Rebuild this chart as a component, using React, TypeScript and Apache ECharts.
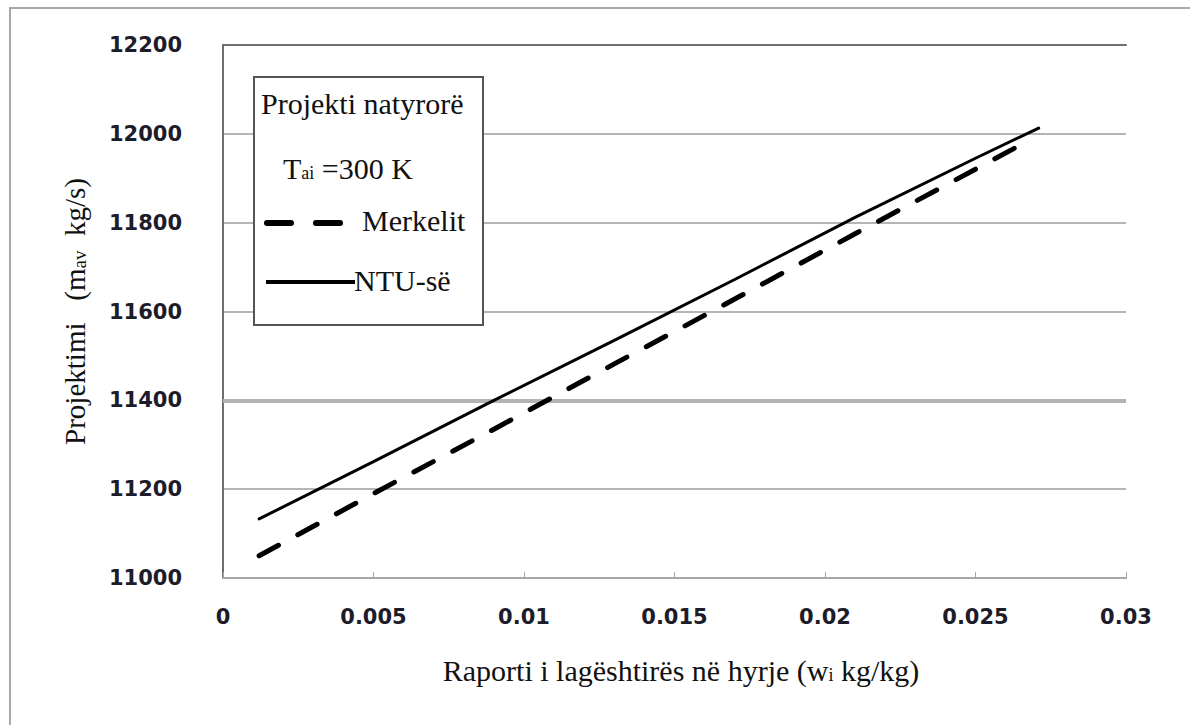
import React, { useEffect, useRef } from "react";
import * as echarts from "echarts";

// Inlet humidity ratio (kg/kg) and design flow results
const ntuX = [0.0012, 0.005, 0.009, 0.013, 0.017, 0.021, 0.025, 0.0271];
const ntuY = [11133, 11262, 11400, 11535, 11672, 11812, 11945, 12013];
const merkelX = [0.0012, 0.005, 0.009, 0.013, 0.017, 0.021, 0.0265];
const merkelY = [11050, 11190, 11335, 11482, 11628, 11775, 11975];

const xTicks = [0, 0.005, 0.01, 0.015, 0.02, 0.025, 0.03];
const yMin = 11000;
const yMax = 12200;
const yStep = 200;
const highlightLevel = 11400;

const serif = "'Liberation Serif', 'Times New Roman', serif";
const tickFont = "'DejaVu Sans', Verdana, sans-serif";

export default function App() {
  const ref = useRef<HTMLDivElement>(null);

  useEffect(() => {
    if (!ref.current) return;
    const chart = echarts.init(ref.current, null, { renderer: "svg" });
    const pair = (xs: number[], ys: number[]) => xs.map((x, i) => [x, ys[i]]);
    const subStyle = (size: number, pad: number) => ({
      fontFamily: serif,
      fontSize: size,
      color: "#111",
      padding: [pad, 0, 0, 0],
    });

    const legendText = (x: number, y: number, text: string) => ({
      type: "text",
      left: x,
      top: y,
      z: 20,
      style: {
        text,
        font: `30px ${serif}`,
        fill: "#111",
        rich: { sub: subStyle(18, 10) },
      },
    });

    chart.setOption({
      animation: false,
      backgroundColor: "#fff",
      grid: { left: 223, top: 45, right: 64, bottom: 147 },
      xAxis: [
        {
          type: "value",
          min: xTicks[0],
          max: xTicks[xTicks.length - 1],
          interval: 0.005,
          axisLine: { show: true, lineStyle: { color: "#a6a6a6", width: 2 } },
          axisTick: { show: true, inside: true, length: 6, lineStyle: { color: "#a6a6a6", width: 1 } },
          splitLine: { show: false },
          axisLabel: {
            margin: 28,
            fontFamily: tickFont,
            fontWeight: "bold",
            fontSize: 21,
            color: "#1c1c2a",
            formatter: (v: number) => String(parseFloat(v.toFixed(3))),
          },
          name: "Raporti i lagështirës në hyrje (w{sub|i} kg/kg)",
          nameLocation: "middle",
          nameGap: 77,
          nameTextStyle: {
            fontFamily: serif,
            fontSize: 30,
            color: "#111",
            padding: [0, 0, 0, 13],
            rich: { sub: subStyle(18, 10) },
          },
        },
        {
          type: "value",
          position: "top",
          min: xTicks[0],
          max: xTicks[xTicks.length - 1],
          interval: 0.005,
          axisLine: { show: true, lineStyle: { color: "#6e6e6e", width: 2 } },
          axisTick: { show: false },
          axisLabel: { show: false },
          splitLine: { show: false },
        },
      ],
      yAxis: [
        {
          type: "value",
          min: yMin,
          max: yMax,
          interval: yStep,
          axisLine: { show: true, lineStyle: { color: "#a6a6a6", width: 2 } },
          axisTick: { show: false },
          splitLine: { show: true, lineStyle: { color: "#b5b5b5", width: 2 } },
          axisLabel: {
            margin: 41,
            fontFamily: tickFont,
            fontWeight: "bold",
            fontSize: 21,
            color: "#1c1c2a",
            formatter: (v: number) => String(v),
          },
          name: "Projektimi   (m{sub|av}  kg/s)",
          nameLocation: "middle",
          nameGap: 134,
          nameTextStyle: {
            fontFamily: serif,
            fontSize: 29,
            color: "#111",
            rich: { sub: subStyle(19, 10) },
          },
        },
        {
          type: "value",
          position: "right",
          min: yMin,
          max: yMax,
          interval: yStep,
          axisLine: { show: true, lineStyle: { color: "#6e6e6e", width: 2 } },
          axisTick: { show: false },
          axisLabel: { show: false },
          splitLine: { show: false },
        },
      ],
      series: [
        {
          name: "NTU-së",
          type: "line",
          data: pair(ntuX, ntuY),
          showSymbol: false,
          lineStyle: { color: "#000", width: 3, type: "solid", cap: "round" },
          z: 5,
          markLine: {
            silent: true,
            symbol: "none",
            label: { show: false },
            lineStyle: { color: "#b3b3b3", width: 4, type: "solid" },
            data: [{ yAxis: highlightLevel }],
            z: 1,
          },
        },
        {
          name: "Merkelit",
          type: "line",
          data: pair(merkelX, merkelY),
          showSymbol: false,
          lineStyle: { color: "#000", width: 5, type: [22, 22], cap: "round" },
          z: 5,
        },
      ],
      graphic: [
        {
          type: "rect",
          shape: { x: 10, y: 8, width: 1200, height: 740 },
          style: { fill: "none", stroke: "#a8a8a8", lineWidth: 2 },
          z: 0,
          silent: true,
        },
        {
          type: "rect",
          shape: { x: 254, y: 77, width: 229, height: 248 },
          style: { fill: "#fff", stroke: "#555", lineWidth: 2 },
          z: 19,
        },
        legendText(261, 88, "Projekti natyrorë"),
        legendText(283, 153, "T{sub|ai} =300 K"),
        {
          type: "line",
          shape: { x1: 267, y1: 223, x2: 346, y2: 223 },
          style: { stroke: "#000", lineWidth: 6, lineDash: [24, 25], lineCap: "round" },
          z: 20,
        },
        legendText(362, 205, "Merkelit"),
        {
          type: "line",
          shape: { x1: 266, y1: 282, x2: 355, y2: 282 },
          style: { stroke: "#000", lineWidth: 4 },
          z: 20,
        },
        legendText(354, 265, "NTU-së"),
      ],
    });
    return () => chart.dispose();
  }, []);

  return (
    <div
      ref={ref}
      style={{ position: "fixed", left: 0, top: 0, width: 1190, height: 725, background: "#fff" }}
    />
  );
}
